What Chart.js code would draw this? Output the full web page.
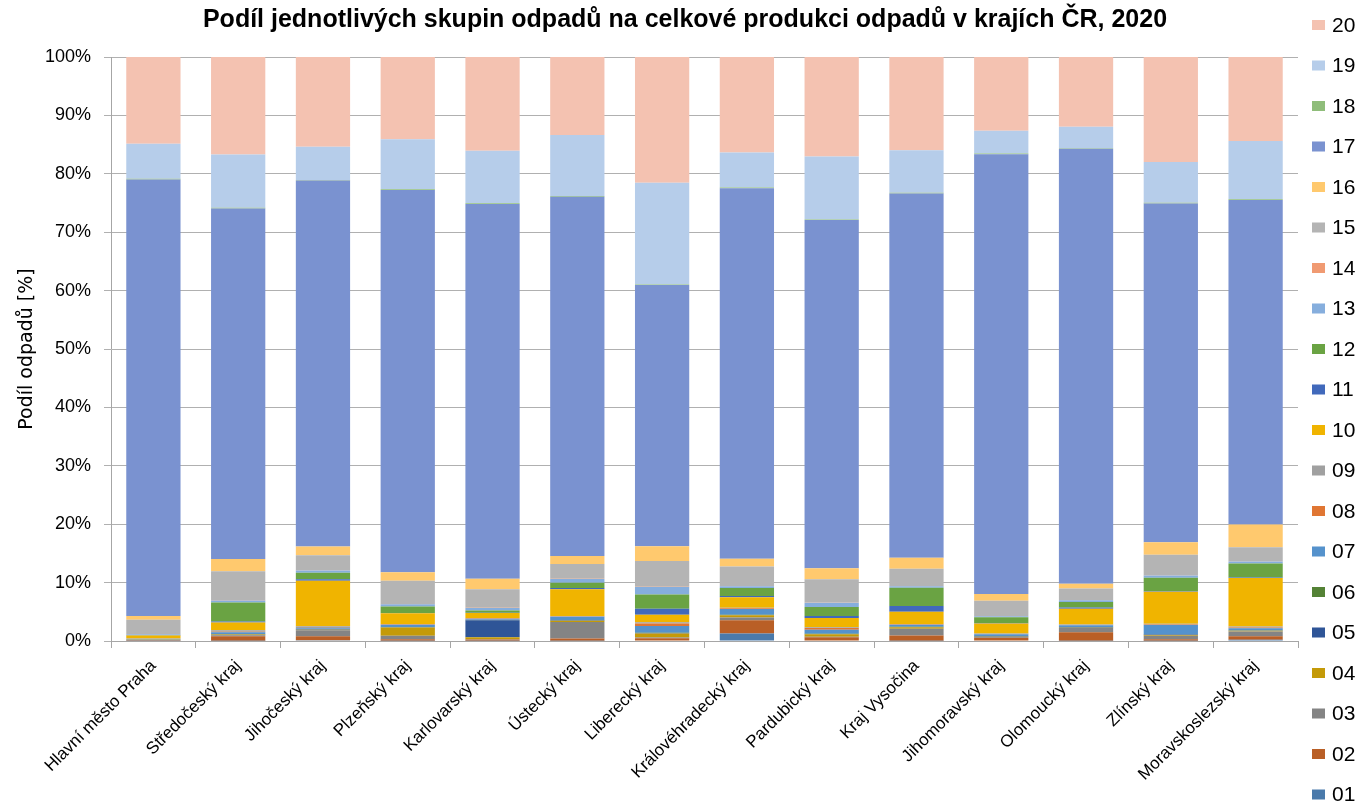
<!DOCTYPE html>
<html>
<head>
<meta charset="utf-8">
<script src="https://cdn.jsdelivr.net/npm/chart.js@4/dist/chart.umd.min.js"></script>
<style>
  html,body{margin:0;padding:0;background:#fff;}
  #wrap{width:1360px;height:804px;}
</style>
</head>
<body>
<div id="wrap"><canvas id="c" width="1360" height="804"></canvas></div>
<script>
const regions = ["Hlavní město Praha","Středočeský kraj","Jihočeský kraj","Plzeňský kraj","Karlovarský kraj","Ústecký kraj","Liberecký kraj","Královéhradecký kraj","Pardubický kraj","Kraj Vysočina","Jihomoravský kraj","Olomoucký kraj","Zlínský kraj","Moravskoslezský kraj"];

// shares of waste groups [%], per region
const g01 = [0.05,0.05,0.15,0.05,0.05,0.05,0.1,1.3,0.1,0.05,0.1,0.05,0.05,0.2];
const g02 = [0.1,0.75,0.65,0.25,0.2,0.4,0.35,2.25,0.55,0.9,0.45,1.45,0.25,0.6];
const g03 = [0.05,0.2,1.05,0.6,0.05,2.8,0.15,0.5,0.1,1.15,0.15,0.75,0.6,0.85];
const g04 = [0.05,0.1,0.1,1.4,0.35,0.25,0.7,0.35,0.4,0.25,0.05,0.05,0.15,0.1];
const g05 = [0.02,0.05,0.05,0.05,2.9,0.05,0.05,0.05,0.05,0.05,0.05,0.05,0.05,0.05];
const g06 = [0.02,0.05,0.05,0.05,0.05,0.05,0.05,0.05,0.05,0.05,0.05,0.05,0.05,0.05];
const g07 = [0.05,0.3,0.15,0.35,0.15,0.55,1.15,1.0,0.7,0.3,0.3,0.3,1.6,0.35];
const g08 = [0.02,0.1,0.05,0.05,0.05,0.05,0.45,0.1,0.3,0.05,0.05,0.05,0.1,0.1];
const g09 = [0.05,0.25,0.3,0.1,0.15,0.1,0.2,0.1,0.1,0.1,0.1,0.1,0.1,0.2];
const g10 = [0.55,1.3,7.8,1.85,0.85,4.6,1.3,1.8,1.6,2.1,1.7,2.7,5.5,8.3];
const g11 = [0.02,0.2,0.25,0.05,0.05,0.2,1.0,0.2,0.35,1.0,0.1,0.2,0.1,0.1];
const g12 = [0.05,3.25,1.1,1.1,0.4,0.9,2.45,1.4,1.55,3.15,1.0,0.95,2.3,2.4];
const g13 = [0.15,0.35,0.4,0.4,0.4,0.65,1.3,0.3,0.7,0.25,0.15,0.3,0.4,0.35];
const g14 = [0.02,0.05,0.05,0.05,0.05,0.05,0.05,0.05,0.05,0.05,0.05,0.05,0.05,0.05];
const g15 = [2.45,4.95,2.55,4.0,3.2,2.55,4.4,3.35,4.0,2.95,2.6,2.0,3.5,2.4];
const g16 = [0.64,2.1,1.5,1.45,1.8,1.35,2.5,1.3,1.9,1.9,1.2,0.8,2.15,3.9];
const g17 = [75.0,60.0,62.8,65.6,64.3,61.8,44.7,63.6,59.8,62.5,75.6,74.8,58.1,55.7];
const g18 = [0.15,0.15,0.1,0.1,0.15,0.15,0.1,0.1,0.1,0.1,0.1,0.1,0.15,0.15];
const g19 = [6.0,9.1,5.7,8.6,9.0,10.5,17.4,6.0,10.8,7.3,3.9,3.7,7.0,10.0];
const g20 = [14.9,16.7,15.4,14.1,16.1,13.4,21.5,16.4,17.1,16.0,12.7,12.0,18.0,14.4];

const groupNames = ["01","02","03","04","05","06","07","08","09","10","11","12","13","14","15","16","17","18","19","20"];
const groups = [g01,g02,g03,g04,g05,g06,g07,g08,g09,g10,g11,g12,g13,g14,g15,g16,g17,g18,g19,g20];
const colors = ["#4a7aab","#b95f26","#848484","#c49a08","#2f5597","#548235","#5592cc","#e07633","#a0a0a0","#f0b400",
                "#4169bb","#6aa343","#86aedd","#f09a72","#b4b4b4","#ffc96e","#7a92d0","#8fbd7a","#b6cdea","#f4c2b1"];
const yTicks = [0,10,20,30,40,50,60,70,80,90,100];
const chartTitle = "Podíl jednotlivých skupin odpadů na celkové produkci odpadů v krajích ČR, 2020";

// 100% stacked: each region scaled to its own total
const totals = regions.map((_,i)=> groups.reduce((s,g)=> s+g[i], 0));
const datasets = groups.map((g,k)=>({
  label: groupNames[k],
  data: g.map((v,i)=> v/totals[i]*100),
  backgroundColor: colors[k],
  borderWidth: 0,
  barPercentage: 0.64,
  categoryPercentage: 1
}));

const FONT = "'Liberation Sans', Arial, sans-serif";

// title over the whole canvas + legend on the right, 20 at top
const decor = {
  id: "decor",
  afterDraw(chart){
    const ctx = chart.ctx;
    ctx.save();
    ctx.fillStyle = "#000";
    ctx.font = "bold 25px " + FONT;
    ctx.textAlign = "center";
    ctx.textBaseline = "middle";
    ctx.fillText(chartTitle, 685, 20);

    ctx.textAlign = "left";
    ctx.font = "21px " + FONT;
    const n = datasets.length;
    for(let k=n-1, row=0; k>=0; k--, row++){
      const y = 25 + row*40.5;
      ctx.fillStyle = colors[k];
      ctx.fillRect(1312, y-5, 13, 10);
      ctx.fillStyle = "#000";
      ctx.fillText(groupNames[k], 1332, y+1);
    }
    ctx.restore();
  }
};

new Chart(document.getElementById("c"), {
  type: "bar",
  data: { labels: regions, datasets },
  plugins: [decor],
  options: {
    responsive: false,
    animation: false,
    layout: { padding: { left: 0, right: 62, top: 57, bottom: 0 } },
    plugins: {
      legend: { display: false },
      tooltip: { enabled: false },
      title: { display: false }
    },
    scales: {
      x: {
        stacked: true,
        grid: { display: true, drawOnChartArea: false, offset: true, color: "#a6a6a6", tickLength: 7 },
        border: { color: "#a6a6a6" },
        ticks: { color: "#000", font: { family: FONT, size: 17 }, maxRotation: 45, minRotation: 45, autoSkip: false, padding: 8 },
        afterFit(scale){ scale.height = 163; }
      },
      y: {
        stacked: true,
        min: 0, max: 100,
        afterBuildTicks(scale){ scale.ticks = yTicks.map(v=>({value:v})); },
        grid: { color: "#b0b0b0", tickLength: 7 },
        border: { color: "#a6a6a6" },
        ticks: { color: "#000", font: { family: FONT, size: 18 }, padding: 13, callback: v=> v + "%" },
        title: { display: true, text: "Podíl odpadů [%]", color: "#000", font: { family: "'DejaVu Sans', sans-serif", size: 19 }, padding: { top: 16, bottom: 0 } },
        afterFit(scale){ scale.width = 111; }
      }
    }
  }
});
</script>
</body>
</html>
